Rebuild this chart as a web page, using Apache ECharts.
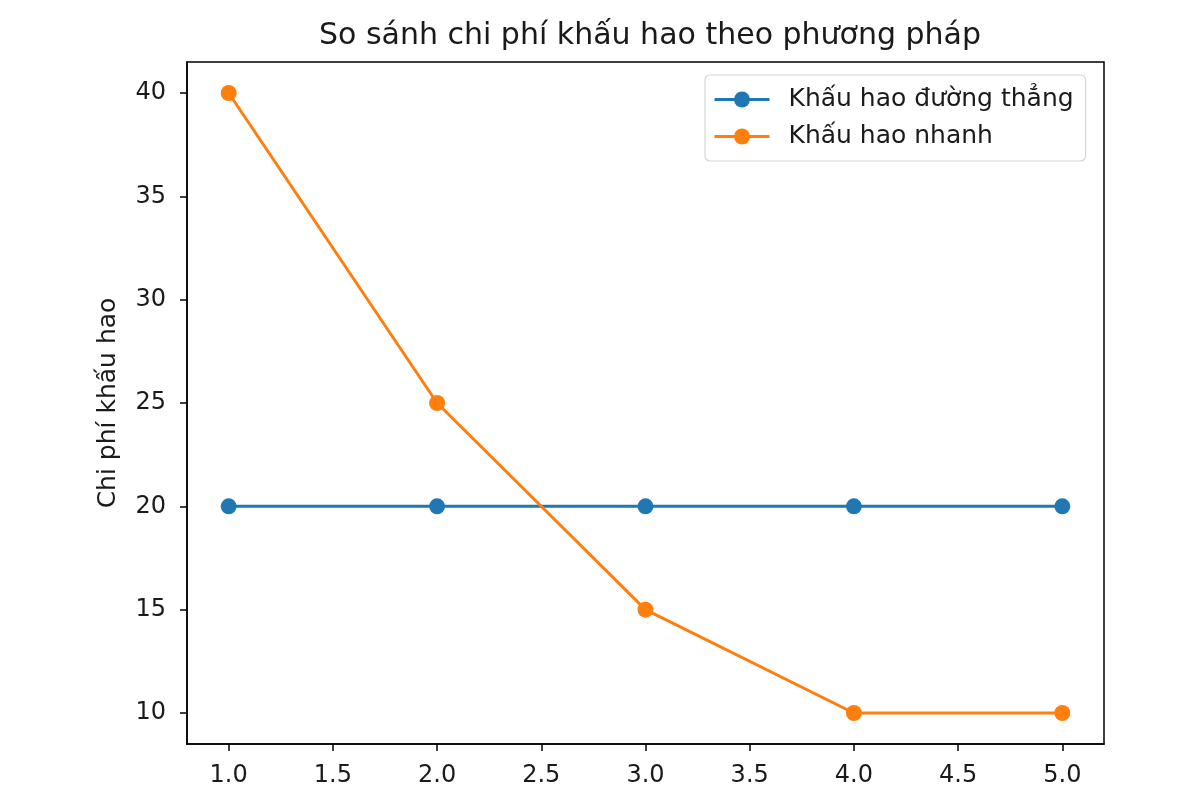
<!DOCTYPE html>
<html>
<head>
<meta charset="utf-8">
<script src="https://cdn.jsdelivr.net/npm/echarts@6/dist/echarts.min.js"></script>
<style>
  html, body { margin: 0; padding: 0; background: #fff; }
  #chart { width: 1200px; height: 800px; }
</style>
</head>
<body>
<div id="chart"></div>
<script>
var years = [1, 2, 3, 4, 5];
var straightLine = [20, 20, 20, 20, 20];
var accelerated = [40, 25, 15, 10, 10];
var xTicks = [1.0, 1.5, 2.0, 2.5, 3.0, 3.5, 4.0, 4.5, 5.0];
var yTicks = [10, 15, 20, 25, 30, 35, 40];

function pairs(xs, ys) {
    return xs.map(function (x, i) { return [x, ys[i]]; });
}

var font = 'DejaVu Sans';
var chart = echarts.init(document.getElementById('chart'));

var option = {
    backgroundColor: '#fff',
    animation: false,
    title: {
        text: 'So sánh chi phí khấu hao theo phương pháp',
        left: 645,
        textAlign: 'center',
        top: 16,
        textStyle: { fontFamily: font, fontSize: 30, fontWeight: 'normal', color: '#1a1a1a' }
    },
    legend: {
        orient: 'vertical',
        left: 705,
        top: 75,
        padding: [12, 12, 12, 8],
        itemGap: 12,
        itemWidth: 55,
        itemHeight: 20,
        borderColor: '#d5d5d5',
        borderWidth: 1.2,
        borderRadius: 5,
        lineStyle: { width: 3 },
        textStyle: { fontFamily: font, fontSize: 25, lineHeight: 25, color: '#1a1a1a', padding: [0, 0, 0, 14] },
        data: ['Khấu hao đường thẳng', 'Khấu hao nhanh']
    },
    grid: {
        left: 187,
        right: 96,
        top: 62,
        bottom: 56,
        outerBoundsMode: 'none',
        containLabel: false,
        show: true,
        borderColor: '#000',
        borderWidth: 1.5,
        backgroundColor: 'transparent'
    },
    xAxis: {
        type: 'value',
        min: 0.8,
        max: 5.2,
        name: 'Năm',
        nameLocation: 'middle',
        nameGap: 68,
        nameTextStyle: { fontFamily: font, fontSize: 25, color: '#1a1a1a' },
        axisLine: { show: true, lineStyle: { color: '#000', width: 1.5 } },
        axisTick: { show: true, length: 7, lineStyle: { color: '#000', width: 1.5 }, customValues: xTicks },
        axisLabel: {
            fontFamily: font, fontSize: 24, color: '#1a1a1a', margin: 20,
            customValues: xTicks,
            formatter: function (v) { return v.toFixed(1); }
        },
        splitLine: { show: false }
    },
    yAxis: {
        type: 'value',
        min: 8.5,
        max: 41.5,
        name: 'Chi phí khấu hao',
        nameLocation: 'middle',
        nameGap: 66,
        nameTextStyle: { fontFamily: font, fontSize: 25, color: '#1a1a1a' },
        axisLine: { show: true, lineStyle: { color: '#000', width: 1.5 } },
        axisTick: { show: true, length: 7, lineStyle: { color: '#000', width: 1.5 }, customValues: yTicks },
        axisLabel: {
            fontFamily: font, fontSize: 24, color: '#1a1a1a', margin: 21,
            customValues: yTicks
        },
        splitLine: { show: false }
    },
    series: [
        {
            name: 'Khấu hao đường thẳng',
            type: 'line',
            data: pairs(years, straightLine),
            symbol: 'circle',
            symbolSize: 16,
            lineStyle: { color: '#1f77b4', width: 3 },
            itemStyle: { color: '#1f77b4' }
        },
        {
            name: 'Khấu hao nhanh',
            type: 'line',
            data: pairs(years, accelerated),
            symbol: 'circle',
            symbolSize: 16,
            lineStyle: { color: '#ff7f0e', width: 3 },
            itemStyle: { color: '#ff7f0e' }
        }
    ]
};
chart.setOption(option);
</script>
</body>
</html>
